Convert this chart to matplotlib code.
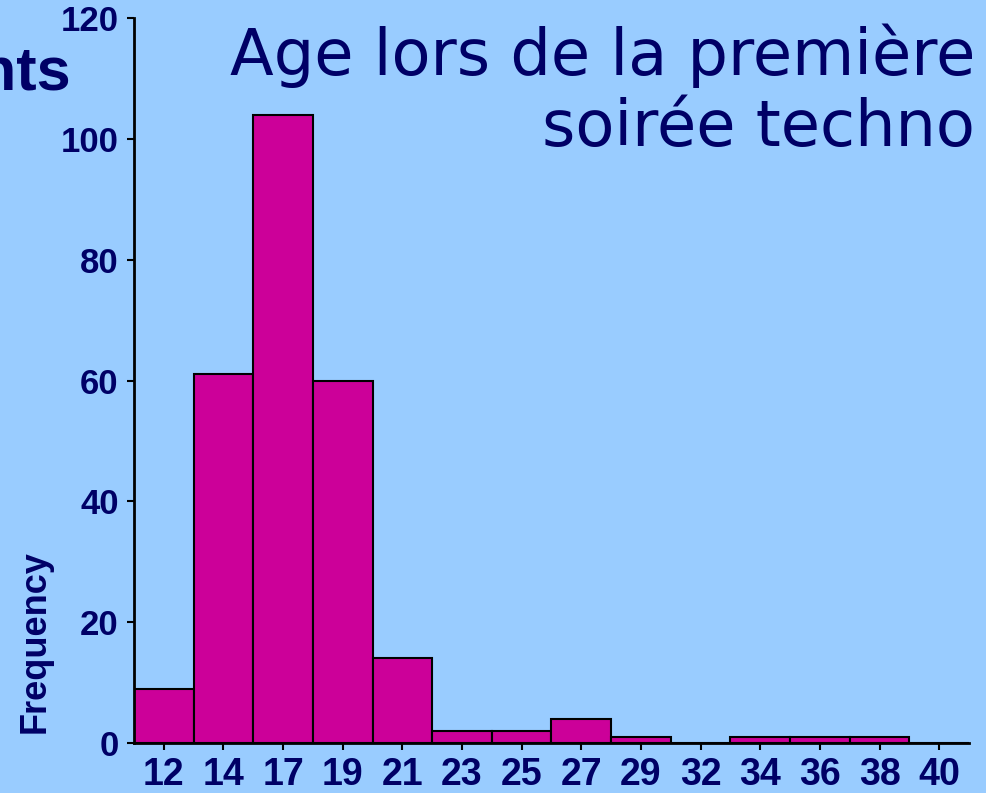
import matplotlib
matplotlib.use("Agg")
import matplotlib.pyplot as plt

# histogramme : age lors de la premiere soiree techno
ages = ["12", "14", "17", "19", "21", "23", "25", "27", "29", "32", "34", "36", "38", "40"]
frequences = [9, 61, 104, 60, 14, 2, 2, 4, 1, 0, 1, 1, 1, 0]

fond = "#99CCFF"
barre = "#CC0099"
marine = "#000066"

W, H = 987, 793
fig = plt.figure(figsize=(W / 100, H / 100), dpi=100, facecolor=fond)
ax = fig.add_axes([134 / W, 50 / H, (969 - 134) / W, (743 - 18) / H])
ax.set_facecolor(fond)

pos = list(range(len(ages)))
ax.bar(pos, frequences, width=1.0, color=barre, edgecolor="black", linewidth=1.5)

ax.set_xlim(-0.5, len(ages) - 0.5)
ax.set_ylim(0, 120)
ax.set_xticks(pos)
ax.set_xticklabels(ages)
ax.set_yticks([0, 20, 40, 60, 80, 100, 120])

for s in ["top", "right"]:
    ax.spines[s].set_visible(False)
for s in ["left", "bottom"]:
    ax.spines[s].set_linewidth(2)
    ax.spines[s].set_color("black")

ax.tick_params(axis="both", colors="black", width=1.5, length=5, labelcolor=marine)
for lab in ax.get_yticklabels():
    lab.set_fontfamily("Liberation Sans")
    lab.set_fontweight("bold")
    lab.set_fontsize(25)
for lab in ax.get_xticklabels():
    lab.set_fontfamily("Liberation Sans")
    lab.set_fontweight("bold")
    lab.set_fontsize(27)
ax.tick_params(axis="y", pad=6)
ax.tick_params(axis="x", pad=5)

ax.set_ylabel("Frequency", fontsize=26, fontweight="bold", color=marine,
              fontfamily="Liberation Sans")
ax.yaxis.set_label_coords(-0.098, 0.14)

fig.text(975 / W, 1 - 24 / H, "Age lors de la première\nsoirée techno",
         ha="right", va="top", fontsize=46, color=marine,
         fontfamily="DejaVu Sans", linespacing=1.18)

# texte de la diapo coupe au bord gauche
fig.text(71 / W, 1 - 90 / H, "ants", ha="right", va="baseline",
         fontsize=44, fontweight="bold", color=marine, fontfamily="Liberation Sans")

fig.savefig("out.png", dpi=100, facecolor=fond)
